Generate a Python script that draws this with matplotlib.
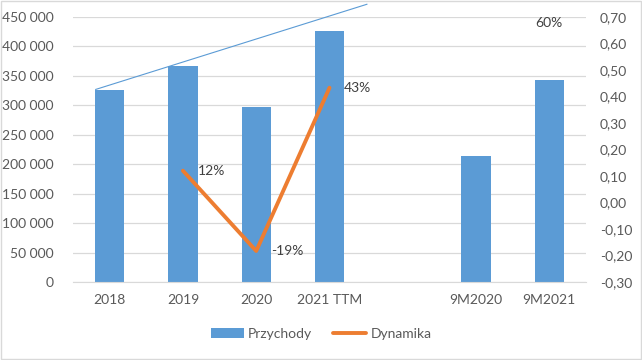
import numpy as np
import matplotlib
matplotlib.use("Agg")
import matplotlib.pyplot as plt
from matplotlib.ticker import FuncFormatter

plt.rcParams['font.family'] = ['Lato', 'DejaVu Sans']

categories = ["2018", "2019", "2020", "2021 TTM", "", "9M2020", "9M2021"]
przychody = [326000, 367000, 297000, 426000, np.nan, 214000, 343000]
dynamika = [np.nan, 0.12, -0.183, 0.433, np.nan, np.nan, 0.60]
dyn_labels = ["", "12%", "-19%", "43%", "", "", "60%"]
trend_x = [-0.19, 3.51]
trend_y = [327000, 471600]

blue = "#5b9bd5"
orange = "#ed7d31"
txt = "#595959"
grid = "#d9d9d9"

fig = plt.figure(figsize=(6.42, 3.6), dpi=100)
fig.patch.set_facecolor("white")
ax = fig.add_axes([0.1137, 0.2167, 0.7991, 0.7361])
ax2 = ax.twinx()

x = np.arange(len(categories))
ax.bar(x, przychody, width=0.4, color=blue, label="Przychody", zorder=2)
ax.plot(trend_x, trend_y, color=blue, lw=0.8, clip_on=False, zorder=3)

ax.set_xlim(-0.5, len(categories) - 0.5)
ax.set_ylim(0, 450000)
ax.set_yticks(np.arange(0, 450001, 50000))
ax.yaxis.set_major_formatter(FuncFormatter(lambda v, p: f"{int(v):,}".replace(",", " ")))
ax.grid(axis="y", color=grid, lw=0.9, zorder=0)
ax.set_axisbelow(True)
ax.set_xticks(x)
ax.set_xticklabels(categories)

ax2.plot(x, dynamika, color=orange, lw=2.8, solid_capstyle="round", label="Dynamika", zorder=4)
ax2.set_ylim(-0.30, 0.70)
ax2.set_yticks(np.round(np.arange(-0.30, 0.701, 0.10), 2))
ax2.yaxis.set_major_formatter(FuncFormatter(lambda v, p: f"{v:.2f}".replace(".", ",").replace("-0,00", "0,00")))

for i, (v, lab) in enumerate(zip(dynamika, dyn_labels)):
    if not lab:
        continue
    if i == len(categories) - 1:
        ax2.annotate(lab, (i, v), xytext=(0, 15), textcoords="offset points",
                     ha="center", va="center", fontsize=10, color="#404040")
    else:
        ax2.annotate(lab, (i, v), xytext=(10.5, 0), textcoords="offset points",
                     ha="left", va="center", fontsize=10, color="#404040")

for a in (ax, ax2):
    for s in a.spines.values():
        s.set_visible(False)
    a.tick_params(length=0, colors=txt, labelsize=10)
ax.spines["bottom"].set_visible(True)
ax.spines["bottom"].set_color(grid)
ax.tick_params(axis="y", pad=14)
ax.tick_params(axis="x", pad=9)
ax2.tick_params(axis="y", pad=10)

h1, l1 = ax.get_legend_handles_labels()
h2, l2 = ax2.get_legend_handles_labels()
fig.legend(h1 + h2, l1 + l2, loc="center", bbox_to_anchor=(0.5, 0.072), ncol=2,
           frameon=False, fontsize=10, labelcolor=txt, handlelength=2.4,
           handletextpad=0.3, columnspacing=1.5)

fig.add_artist(plt.Rectangle((0.001, 0.002), 0.997, 0.995, transform=fig.transFigure,
                             fill=False, edgecolor=grid, lw=1))

fig.savefig("out.png", dpi=100)
